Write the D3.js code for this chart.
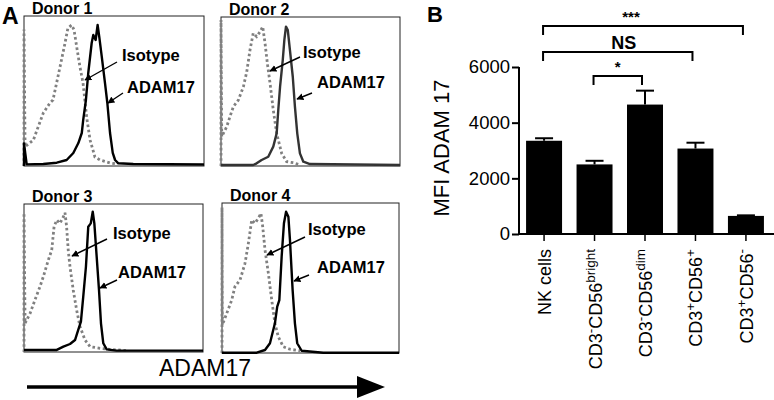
<!DOCTYPE html>
<html><head><meta charset="utf-8">
<script src="https://cdn.jsdelivr.net/npm/d3@7"></script>
<style>body{margin:0;background:#fff} svg{display:block;font-family:"Liberation Sans",Arial,sans-serif}</style>
</head><body><svg id="c" width="774" height="400"></svg>
<script>
// ---------------- DATA ----------------
const donors = ["Donor 1", "Donor 2", "Donor 3", "Donor 4"];
// histogram points: [fluorescence channel (0-100), % of max]
const isotype = [
  [[0,0],[0,91],[0.6,12.9],[5.2,17.3],[10.7,35.3],[14.4,42],[16.1,44],[20,66],[22.8,82],[24.4,92],[26.5,94],[27.8,90.7],[29.3,79.3],[31.1,66],[32.8,55.3],[34.8,32.7],[36.7,17.3],[39.4,6],[42.2,4],[47.8,2],[51.7,1.3]],
  [[0,0],[0,98],[0.4,19.7],[3.2,26.4],[5,33.1],[6.9,39.8],[9.7,44.3],[12.5,53.2],[14.4,63.3],[16.2,77.9],[18,89.1],[19.9,86.8],[21.8,90.1],[23.3,93.5],[24.6,82.4],[25.9,68.9],[27.4,55.5],[29.2,37.6],[31.1,21.9],[33.9,8.5],[36.7,2.9],[40.4,2.2],[44.1,0.7]],
  [[0,0],[0,94],[0.6,19.4],[3.4,26.1],[6.1,35.1],[8.9,44.1],[10.8,50.9],[13.6,62.2],[15.5,68.9],[16.8,84.7],[18.3,89.2],[20.1,86.9],[22,91.4],[22.9,94.1],[23.8,84.7],[24.7,68.9],[25.7,57.6],[27.5,41.9],[29.4,28.4],[31.3,17.1],[34.1,8.1],[36.9,3.6],[42.5,2.5],[48,1.8],[57.4,0.9]],
  [[0,0],[0,97],[0.2,18.7],[2.7,26.5],[5.5,35.3],[7.3,44.2],[10.2,48.7],[13,59.8],[14.9,73.1],[16.8,88.7],[18.6,86.5],[20.5,89.8],[22,93.1],[23,84.2],[24.3,68.7],[26.2,53.1],[28.1,35.3],[29.9,19.8],[31.8,10.9],[34.6,4.2],[38.4,2.5],[44.1,1.5]]
];
const adam17 = [
  [[0,0],[0,15.1],[1.5,1.1],[10.7,1.3],[18.2,2.2],[23.7,4],[27.4,8.7],[30.2,15.3],[32.1,22],[32.9,30.7],[34.4,44],[35.7,62],[37.6,82],[38.5,87.3],[39.8,84],[40.9,94],[41.8,86.2],[43.2,72.9],[45,55.3],[46.3,42],[47.8,22],[49.3,8.7],[50.6,4],[52.4,1.8],[60.7,1.3],[100,1]],
  [[0,0.7],[18,0.7],[19.9,1.8],[22.7,4],[26.4,6.2],[29.2,13],[31.1,21.9],[32,37.6],[33,53.2],[34.5,71.1],[35.4,84.6],[36.3,93.5],[37.3,91.3],[38.5,77.9],[40.1,59.9],[41.3,39.8],[42.6,21.9],[44.1,8.5],[46,2.9],[49.7,1.3],[100,0.7]],
  [[0,1.4],[18.3,1.4],[22,3.6],[25.7,5.4],[28.5,8.1],[30.3,14.9],[31.8,20.5],[33.1,37.4],[34.6,57.6],[35.9,84.7],[37.3,86.9],[38.4,94.8],[39.3,86.9],[40.6,64.4],[41.9,41.9],[43,19.4],[44.3,5.9],[46.2,1.8],[51.8,0.9],[100,0.9]],
  [[0,0.2],[19.6,0.2],[24.3,2],[27.1,6.5],[29.9,19.8],[31.2,30.9],[32.4,35.3],[33.7,64.2],[35,86.5],[36.2,94.2],[37.5,90.9],[38.4,75.3],[39.9,42],[41.2,19.8],[42.5,6.5],[45,1.5],[57.2,0.2],[100,0.2]]
];
const histXLabel = "ADAM17";

const categories = ["NK cells", "CD3-CD56bright", "CD3-CD56dim", "CD3+CD56+", "CD3+CD56-"];
// text parts: [text, isSuperscript]
const categoryParts = [
  [["NK cells",0]],
  [["CD3",0],["-",1],["CD56",0],["bright",1]],
  [["CD3",0],["-",1],["CD56",0],["dim",1]],
  [["CD3",0],["+",1],["CD56",0],["+",1]],
  [["CD3",0],["+",1],["CD56",0],["-",1]]
];
const mfi = [3350, 2500, 4650, 3070, 650];
const sem = [90, 130, 500, 210, 20];
const yTicks = [0, 2000, 4000, 6000];
const yLabel = "MFI ADAM 17";
const comparisons = [
  {from: 0, to: 4, label: "***"},
  {from: 0, to: 3, label: "NS"},
  {from: 1, to: 2, label: "*"}
];

// ---------------- LAYOUT ----------------
const svg = d3.select("#c");
const defs = svg.append("defs");
defs.append("marker").attr("id","ah").attr("viewBox","0 0 10 10").attr("refX",9).attr("refY",5)
  .attr("markerWidth",7).attr("markerHeight",7).attr("markerUnits","userSpaceOnUse").attr("orient","auto")
  .append("path").attr("d","M0,0L10,5L0,10z").attr("fill","#000");

// panel letters
svg.append("text").attr("x",2).attr("y",24).attr("font-size",23).attr("font-weight","bold").text("A");
svg.append("text").attr("x",427).attr("y",22).attr("font-size",22).attr("font-weight","bold").text("B");

// ---- Panel A ----
const boxes = [
  {x:24, y:16, w:180, h:150, iso:{tx:98,ty:39,a:[93,46,61,64]}, ad:{tx:103,ty:71,a:[99,77,84,87]}, col:"#000"},
  {x:221, y:17, w:179, h:149, iso:{tx:82,ty:35,a:[79,40,49,54]}, ad:{tx:96,ty:65,a:[91,76,76,82]}, col:"#333"},
  {x:24, y:204, w:179, h:148, iso:{tx:89,ty:29,a:[83,35,48,52]}, ad:{tx:94,ty:68,a:[93,76,76,84]}, col:"#000"},
  {x:222, y:203, w:177, h:150, iso:{tx:86,ty:26,a:[83,34,45,52]}, ad:{tx:95,ty:64,a:[87,72,72,78]}, col:"#000"}
];

donors.forEach((name, i) => {
  const b = boxes[i];
  const g = svg.append("g").attr("transform", `translate(${b.x},${b.y})`);
  const x = d3.scaleLinear().domain([0,100]).range([0,b.w]);
  const y = d3.scaleLinear().domain([0,100]).range([b.h,0]);
  const line = d3.line().x(d => x(d[0])).y(d => y(d[1]));
  g.append("rect").attr("width",b.w).attr("height",b.h).attr("fill","none").attr("stroke","#222").attr("stroke-width",1);
  g.append("path").datum(isotype[i]).attr("d",line).attr("fill","none")
    .attr("stroke","#808080").attr("stroke-width",2.8).attr("stroke-dasharray","2.6,2.6");
  g.append("path").datum(adam17[i]).attr("d",line).attr("fill","none")
    .attr("stroke",b.col).attr("stroke-width",2.4).attr("stroke-linejoin","round");
  svg.append("text").attr("x",b.x+8).attr("y",b.y-2.5).attr("font-size",16).attr("font-weight","bold").text(name);
  [[b.iso,"Isotype"],[b.ad,"ADAM17"]].forEach(([o,t]) => {
    g.append("text").attr("x",o.tx).attr("y",o.ty).attr("dy","0.35em").attr("font-size",16.5)
      .attr("font-weight","bold").text(t);
    g.append("line").attr("x1",o.a[0]).attr("y1",o.a[1]).attr("x2",o.a[2]).attr("y2",o.a[3])
      .attr("stroke","#000").attr("stroke-width",1.4).attr("marker-end","url(#ah)");
  });
});

// bottom axis label + arrow
svg.append("text").attr("x",205).attr("y",376).attr("text-anchor","middle").attr("font-size",23).text(histXLabel);
svg.append("line").attr("x1",27).attr("x2",360).attr("y1",387).attr("y2",387).attr("stroke","#000").attr("stroke-width",3.5);
svg.append("path").attr("d","M357,376L385,387L357,398Z").attr("fill","#000");

// ---- Panel B ----
const xB = d3.scaleBand().domain(categories).range([518,772]).paddingInner(0.287).paddingOuter(0.16);
const yB = d3.scaleLinear().domain([0,6000]).range([234,67]);

const gB = svg.append("g");
// bars
gB.selectAll("rect.bar").data(categories).join("rect").attr("class","bar")
  .attr("x", d => xB(d)).attr("width", xB.bandwidth())
  .attr("y", (d,i) => yB(mfi[i])).attr("height", (d,i) => yB(0) - yB(mfi[i])).attr("fill","#000");
// error bars
categories.forEach((c,i) => {
  const cx = xB(c) + xB.bandwidth()/2;
  gB.append("line").attr("x1",cx).attr("x2",cx).attr("y1",yB(mfi[i])).attr("y2",yB(mfi[i]+sem[i]))
    .attr("stroke","#000").attr("stroke-width",2);
  gB.append("line").attr("x1",cx-9).attr("x2",cx+9).attr("y1",yB(mfi[i]+sem[i])).attr("y2",yB(mfi[i]+sem[i]))
    .attr("stroke","#000").attr("stroke-width",2);
});

// y axis
const yAxis = d3.axisLeft(yB).tickValues(yTicks).tickSize(7).tickPadding(2).tickFormat(d3.format("d"));
const gy = svg.append("g").attr("transform","translate(519,0)").call(yAxis);
gy.select(".domain").attr("stroke-width",2).attr("d",`M0,${yB(6000)}V${yB(0)}`);
gy.selectAll(".tick line").attr("stroke-width",2);
gy.selectAll(".tick text").attr("font-size",18.5).attr("fill","#000").attr("font-family","Liberation Sans, Arial, sans-serif");

// x axis
const xAxis = d3.axisBottom(xB).tickSize(7).tickFormat("");
const gx = svg.append("g").attr("transform","translate(0,234)").call(xAxis);
gx.select(".domain").attr("stroke-width",2).attr("d","M518,0H774");
gx.selectAll(".tick line").attr("stroke-width",1.5);

// x labels (rotated)
categories.forEach((c,i) => {
  const cx = xB(c) + xB.bandwidth()/2;
  const t = svg.append("text").attr("transform",`translate(${cx+7},249) rotate(-90)`)
    .attr("text-anchor","end").attr("font-size",18);
  categoryParts[i].forEach(([s,sup]) => {
    if (sup) t.append("tspan").attr("font-size",13.5).attr("baseline-shift","super").text(s);
    else t.append("tspan").text(s);
  });
});

// y title
svg.append("text").attr("transform","translate(449,148) rotate(-90)").attr("text-anchor","middle")
  .attr("font-size",22).text(yLabel);

// significance brackets
const levels = [26, 52, 76];
comparisons.forEach((cmp,k) => {
  const x1 = xB(categories[cmp.from]) + xB.bandwidth()/2 - 1;
  const x2 = xB(categories[cmp.to]) + xB.bandwidth()/2 - 3;
  const yy = levels[k];
  svg.append("path").attr("d",`M${x1},${yy+9}V${yy}H${x2}V${yy+9}`).attr("fill","none")
    .attr("stroke","#000").attr("stroke-width",2);
  const isNS = cmp.label === "NS";
  svg.append("text").attr("x",(x1+x2)/2 + (k===0?-12:(k===1?6:0))).attr("y", isNS ? yy-3 : yy-4)
    .attr("text-anchor","middle").attr("font-weight","bold").attr("font-size", isNS ? 18 : 15).text(cmp.label);
});
</script></body></html>
